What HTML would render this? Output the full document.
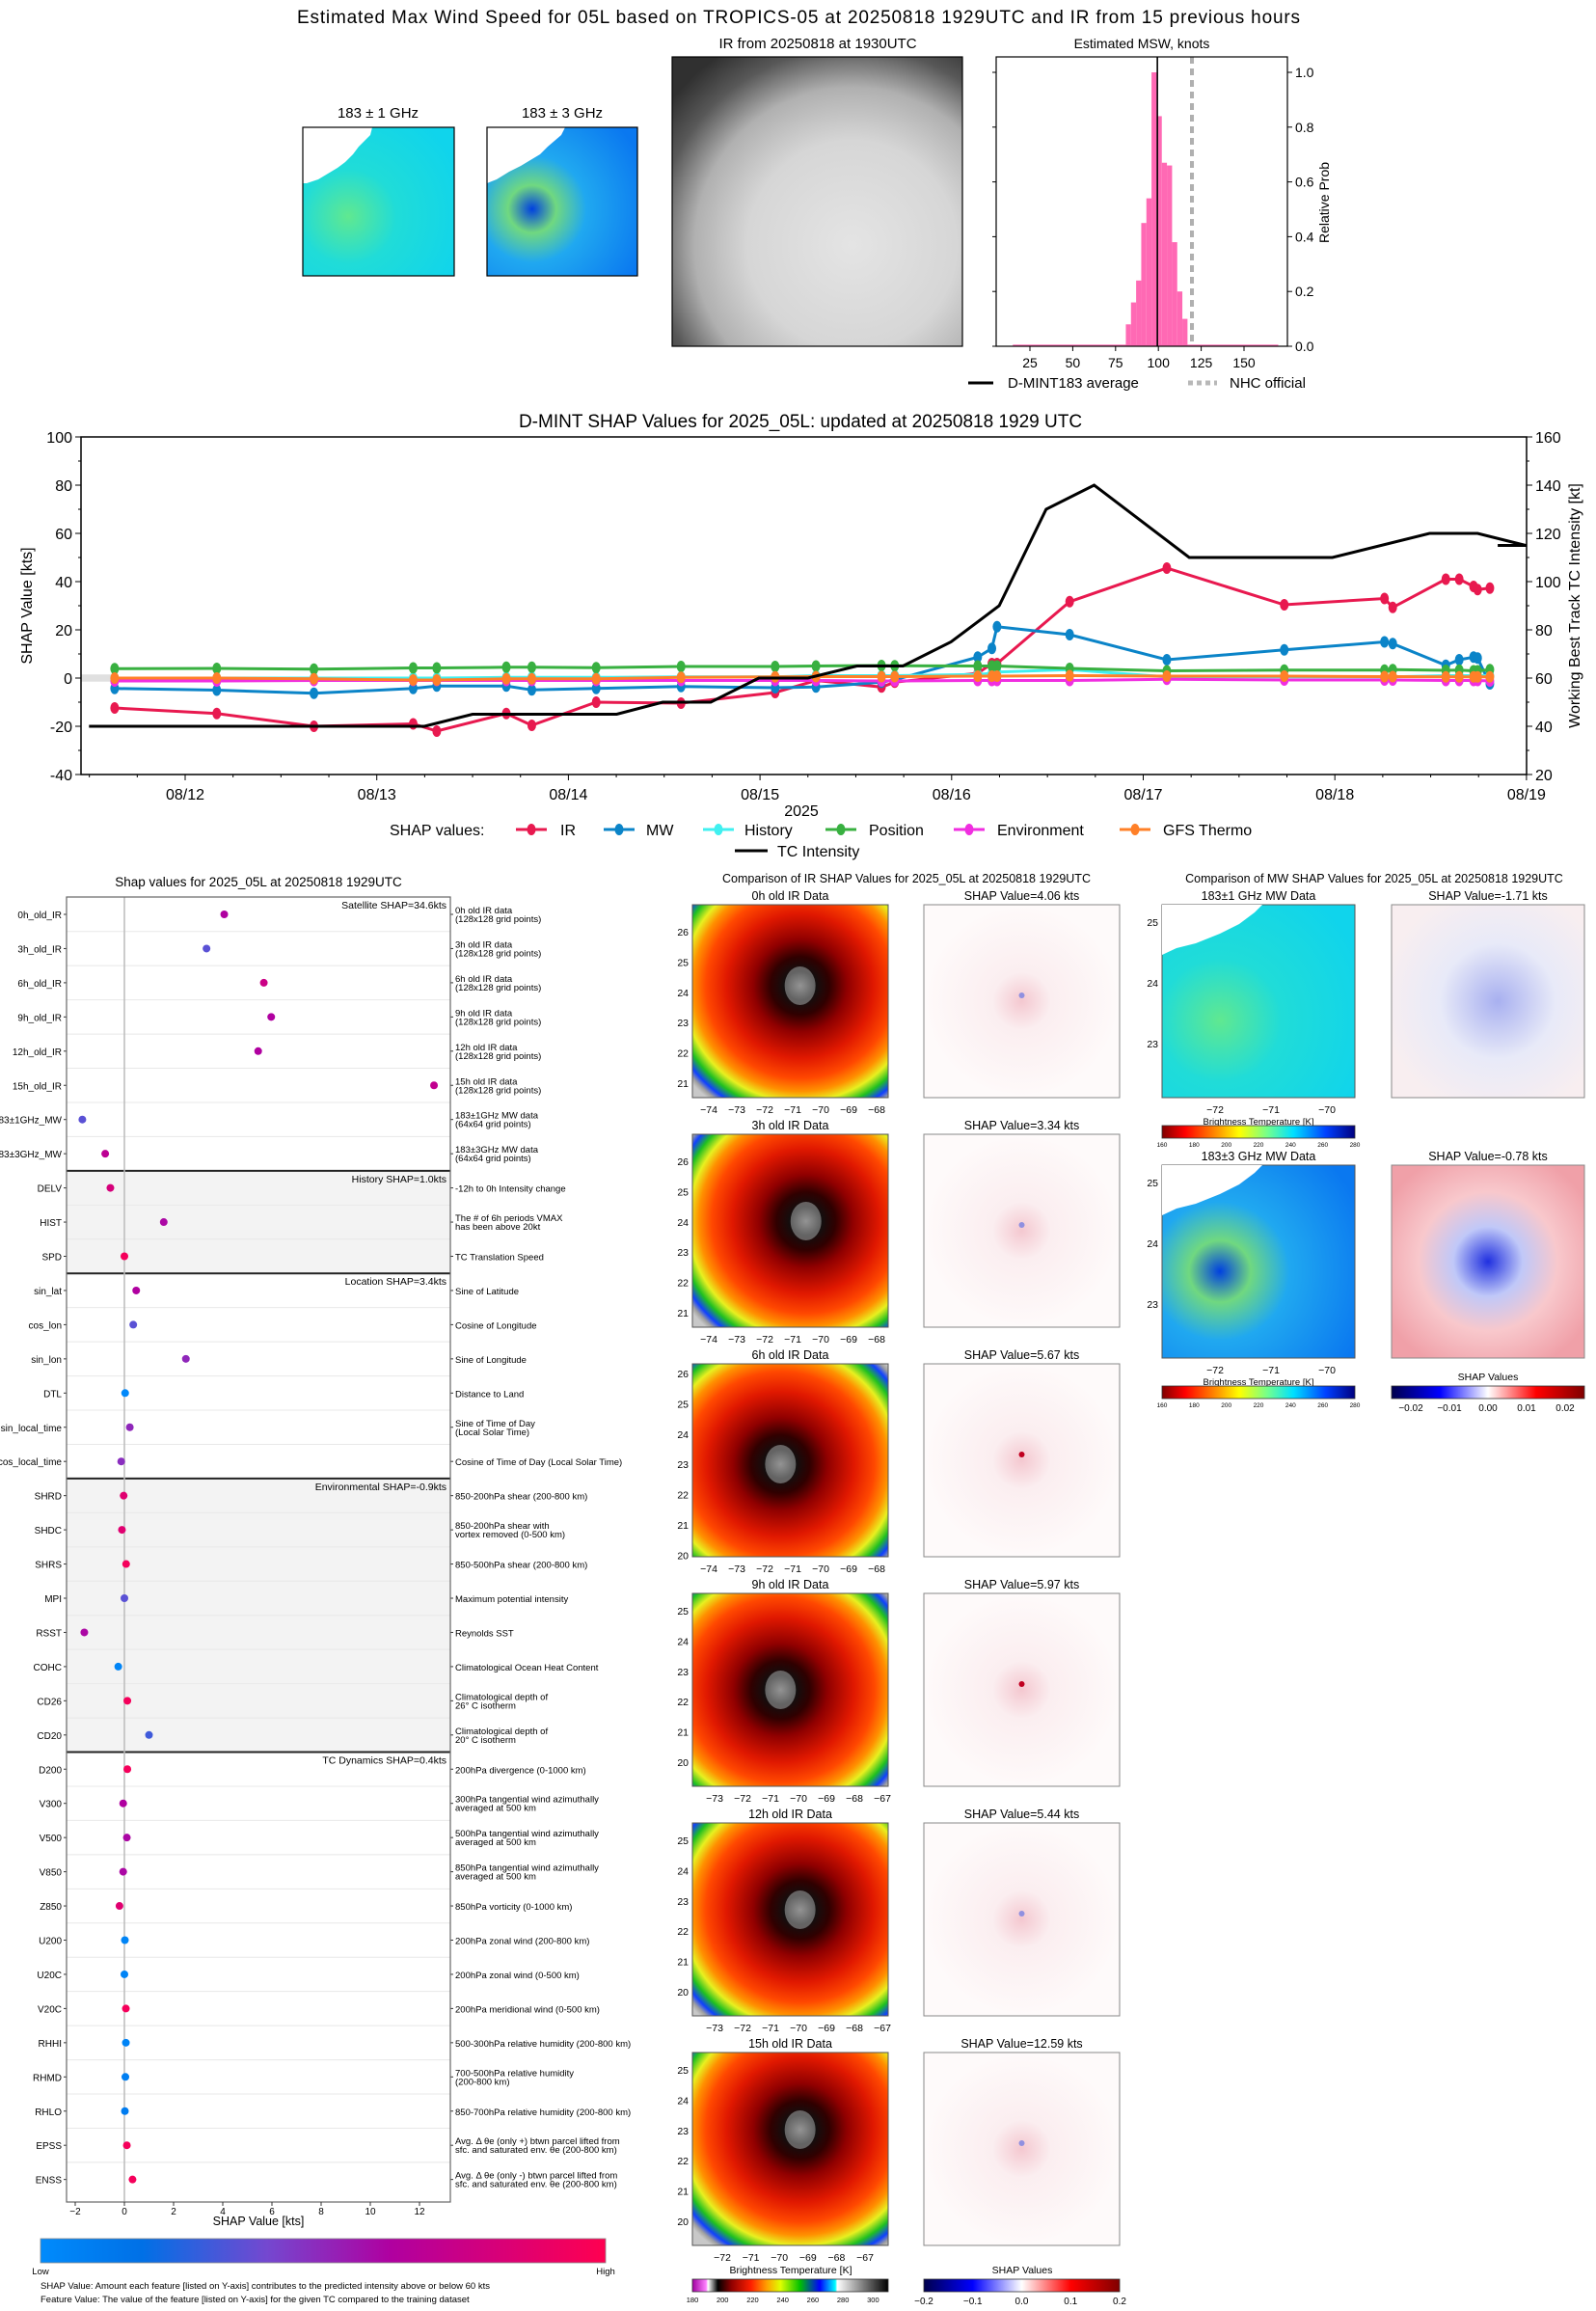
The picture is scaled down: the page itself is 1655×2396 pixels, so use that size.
<!DOCTYPE html>
<html><head><meta charset="utf-8"><title>D-MINT TROPICS-05 05L</title>
<style>
html,body{margin:0;padding:0;background:#fff;}
svg{display:block;font-family:"Liberation Sans",sans-serif;}
</style></head>
<body>
<svg id="fig" xmlns="http://www.w3.org/2000/svg" width="1655" height="2396" viewBox="0 0 1655 2396">
<defs>
 <linearGradient id="jetR" x1="0" x2="1" y1="0" y2="0">
  <stop offset="0" stop-color="#800000"/><stop offset="0.12" stop-color="#ff0000"/><stop offset="0.3" stop-color="#ffa000"/><stop offset="0.4" stop-color="#ffff00"/><stop offset="0.55" stop-color="#70ff90"/><stop offset="0.68" stop-color="#00e0ff"/><stop offset="0.85" stop-color="#0040ff"/><stop offset="1" stop-color="#000080"/>
 </linearGradient>
 <linearGradient id="seis" x1="0" x2="1" y1="0" y2="0">
  <stop offset="0" stop-color="#00004c"/><stop offset="0.25" stop-color="#0000ff"/><stop offset="0.5" stop-color="#ffffff"/><stop offset="0.75" stop-color="#ff0000"/><stop offset="1" stop-color="#800000"/>
 </linearGradient>
 <linearGradient id="irc" x1="0" x2="1" y1="0" y2="0">
  <stop offset="0" stop-color="#a000a0"/><stop offset="0.07" stop-color="#ff80ff"/><stop offset="0.08" stop-color="#ffffff"/><stop offset="0.13" stop-color="#000000"/><stop offset="0.2" stop-color="#900000"/><stop offset="0.3" stop-color="#ff2000"/><stop offset="0.38" stop-color="#ffa000"/><stop offset="0.45" stop-color="#e0ff00"/><stop offset="0.55" stop-color="#00c000"/><stop offset="0.65" stop-color="#0000ff"/><stop offset="0.73" stop-color="#00ffff"/><stop offset="0.74" stop-color="#ffffff"/><stop offset="1" stop-color="#000000"/>
 </linearGradient>
 <linearGradient id="lowhigh" x1="0" x2="1" y1="0" y2="0">
  <stop offset="0" stop-color="#008bfc"/><stop offset="0.18" stop-color="#0070e6"/><stop offset="0.4" stop-color="#7448d0"/><stop offset="0.62" stop-color="#b000a0"/><stop offset="1" stop-color="#ff0050"/>
 </linearGradient>
 <radialGradient id="irgray" cx="0.62" cy="0.65" r="0.8">
  <stop offset="0" stop-color="#e4e4e4"/><stop offset="0.45" stop-color="#d6d6d6"/><stop offset="0.68" stop-color="#b0b0b0"/><stop offset="0.85" stop-color="#585858"/><stop offset="1" stop-color="#303030"/>
 </radialGradient>
 <radialGradient id="mw1top" cx="0.3" cy="0.6" r="0.8">
  <stop offset="0" stop-color="#60e890"/><stop offset="0.4" stop-color="#20dcd8"/><stop offset="1" stop-color="#10d4ec"/>
 </radialGradient>
 <radialGradient id="mw3top" cx="0.3" cy="0.55" r="0.8">
  <stop offset="0" stop-color="#0040e0"/><stop offset="0.2" stop-color="#70d880"/><stop offset="0.45" stop-color="#20a8f0"/><stop offset="1" stop-color="#0a78f0"/>
 </radialGradient>
 <radialGradient id="mwsh3" cx="0.5" cy="0.5" r="0.6">
  <stop offset="0" stop-color="#2030e0"/><stop offset="0.3" stop-color="#c0c8f8"/><stop offset="0.6" stop-color="#f8c8cc"/><stop offset="1" stop-color="#f0a0a8"/>
 </radialGradient>
 <radialGradient id="mwsh1" cx="0.55" cy="0.5" r="0.6">
  <stop offset="0" stop-color="#a8b0f0"/><stop offset="0.5" stop-color="#e8eaf8"/><stop offset="1" stop-color="#f8eef0"/>
 </radialGradient>
 <radialGradient id="irshap" cx="0.5" cy="0.5" r="0.5">
  <stop offset="0" stop-color="#f4c8d0"/><stop offset="0.3" stop-color="#fbeef0"/><stop offset="1" stop-color="#fefafa"/>
 </radialGradient>
</defs>

<text x="828" y="24" font-size="19" text-anchor="middle" textLength="1040">Estimated Max Wind Speed for 05L based on TROPICS-05 at 20250818 1929UTC and IR from 15 previous hours</text>

<text x="392" y="122" font-size="15" text-anchor="middle">183 ± 1 GHz</text>
<g>
 <rect x="314" y="132" width="157" height="154" fill="url(#mw1top)"/>
 <polygon points="314,132 386,132 384,140 378,146 372,152 366,160 358,168 350,174 340,180 330,186 318,190 314,190" fill="#fff"/>
 <rect x="314" y="132" width="157" height="154" fill="none" stroke="#000" stroke-width="1.2"/>
</g>
<text x="583" y="122" font-size="15" text-anchor="middle">183 ± 3 GHz</text>
<g>
 <rect x="505" y="132" width="156" height="154" fill="url(#mw3top)"/>
 <polygon points="505,132 586,132 582,140 575,146 568,152 560,160 550,166 540,172 528,178 515,186 505,190" fill="#fff"/>
 <rect x="505" y="132" width="156" height="154" fill="none" stroke="#000" stroke-width="1.2"/>
</g>
<text x="848" y="50" font-size="15" text-anchor="middle">IR from 20250818 at 1930UTC</text>
<g>
 <rect x="697" y="59" width="301" height="300" fill="url(#irgray)"/>
 <rect x="697" y="59" width="301" height="300" fill="none" stroke="#000" stroke-width="1.2"/>
</g>
<text x="1184" y="50" font-size="14" text-anchor="middle">Estimated MSW, knots</text>
<g id="hist"></g>

<text x="830" y="443" font-size="19" text-anchor="middle">D-MINT SHAP Values for 2025_05L: updated at 20250818 1929 UTC</text>
<g id="ts"></g>

<text x="268" y="919" font-size="13.5" text-anchor="middle">Shap values for 2025_05L at 20250818 1929UTC</text>
<g id="feat"></g>

<text x="940" y="915" font-size="12.5" text-anchor="middle">Comparison of IR SHAP Values for 2025_05L at 20250818 1929UTC</text>
<g id="irpanels"></g>

<text x="1425" y="915" font-size="12.5" text-anchor="middle">Comparison of MW SHAP Values for 2025_05L at 20250818 1929UTC</text>
<g id="mwpanels"></g>
</svg>

<script>
const NS = "http://www.w3.org/2000/svg";
const histBinStart = [81,84,87,90,93,96,99,102,105,108,111,114];
const histProb = [0.08,0.16,0.24,0.45,0.54,1.0,0.84,0.67,0.66,0.38,0.2,0.1];
const histTailLo = 15, histTailHi = 170;
const mintAverage = 99.4;
const nhcOfficial = 119.6;
const histXTicks = [25,50,75,100,125,150];
const histYTicks = [0.0,0.2,0.4,0.6,0.8,1.0];

const tsDays = [0.632,1.165,1.672,2.19,2.313,2.676,2.809,3.145,3.588,4.079,4.292,4.634,4.703,5.136,5.21,5.237,5.616,6.123,6.736,7.259,7.302,7.579,7.649,7.724,7.745,7.809];
const irShap = [-12.4,-14.7,-20,-19,-22,-14.7,-19.6,-10,-10.4,-6,-1,-3.7,-1.7,2,6,6,31.7,45.6,30.4,33,29.3,41,41,38,36.7,37.3];
const mwShap = [-4.3,-5,-6.3,-4.3,-3.3,-3.3,-4.9,-4.3,-3.5,-4,-3.7,-1.7,-0.7,8.7,12.3,21.3,18,7.6,11.7,15,14.3,5.3,7.6,8.7,8.3,-2.4];
const historyShap = [0,0,0,0,0,0.3,0.3,0.3,0.5,0.5,1,1,1,1.5,2,2.5,3.5,0.5,0.5,0.5,0.5,1,1,1,1,1];
const positionShap = [3.9,4,3.7,4.2,4.2,4.5,4.5,4.3,4.8,4.8,5,5.2,5.1,5,5,5,4,3,3.3,3.3,3.5,3.2,3.3,3,3,3.5];
const envShap = [-1.2,-1.2,-1,-1,-1,-1,-1,-1,-1,-1,-1,-1.2,-1.2,-1,-1,-1,-1,-0.5,-0.8,-0.8,-0.8,-1,-1,-1,-1,-1.2];
const gfsShap = [0,0,-0.3,-0.8,-0.8,-0.3,-0.3,-0.3,0.3,0.5,0.6,0.6,0.6,0.8,0.8,0.8,1,0.8,0.8,0.6,0.6,0.5,0.5,0.5,0.5,0.5];
const intDays = [0.498,2.249,2.5,3.252,3.492,3.743,3.994,4.25,4.506,4.746,4.997,5.248,5.493,5.744,6.24,6.987,7.494,7.745,7.996];
const intKts = [40,40,45,45,50,50,60,60,65,65,75,90,130,140,110,110,120,120,115];
const tsDateLabels = ["08/12","08/13","08/14","08/15","08/16","08/17","08/18","08/19"];
const tsLeftTicks = [-40,-20,0,20,40,60,80,100];
const tsRightTicks = [20,40,60,80,100,120,140,160];

const featNames = ["0h_old_IR","3h_old_IR","6h_old_IR","9h_old_IR","12h_old_IR","15h_old_IR","183±1GHz_MW","183±3GHz_MW","DELV","HIST","SPD","sin_lat","cos_lon","sin_lon","DTL","sin_local_time","cos_local_time","SHRD","SHDC","SHRS","MPI","RSST","COHC","CD26","CD20","D200","V300","V500","V850","Z850","U200","U20C","V20C","RHHI","RHMD","RHLO","EPSS","ENSS"];
const featShap = [4.06,3.34,5.67,5.97,5.44,12.59,-1.71,-0.78,-0.57,1.6,0,0.48,0.36,2.5,0.03,0.22,-0.13,-0.03,-0.1,0.07,0.0,-1.63,-0.25,0.12,1.0,0.12,-0.05,0.1,-0.05,-0.2,0.02,0,0.06,0.06,0.04,0.02,0.1,0.33];
const featLevel = [0.62,0.35,0.75,0.62,0.62,0.7,0.35,0.68,0.8,0.6,0.95,0.62,0.35,0.5,0.02,0.5,0.48,0.85,0.85,0.95,0.35,0.6,0.05,0.95,0.3,0.95,0.62,0.6,0.6,0.85,0.05,0.05,0.95,0.05,0.08,0.1,0.95,0.95];
const featDesc = [["0h old IR data","(128x128 grid points)"],["3h old IR data","(128x128 grid points)"],["6h old IR data","(128x128 grid points)"],["9h old IR data","(128x128 grid points)"],["12h old IR data","(128x128 grid points)"],["15h old IR data","(128x128 grid points)"],["183±1GHz MW data","(64x64 grid points)"],["183±3GHz MW data","(64x64 grid points)"],["-12h to 0h Intensity change"],["The # of 6h periods VMAX","has been above 20kt"],["TC Translation Speed"],["Sine of Latitude"],["Cosine of Longitude"],["Sine of Longitude"],["Distance to Land"],["Sine of Time of Day","(Local Solar Time)"],["Cosine of Time of Day (Local Solar Time)"],["850-200hPa shear (200-800 km)"],["850-200hPa shear with","vortex removed (0-500 km)"],["850-500hPa shear (200-800 km)"],["Maximum potential intensity"],["Reynolds SST"],["Climatological Ocean Heat Content"],["Climatological depth of","26° C isotherm"],["Climatological depth of","20° C isotherm"],["200hPa divergence (0-1000 km)"],["300hPa tangential wind azimuthally","averaged at 500 km"],["500hPa tangential wind azimuthally","averaged at 500 km"],["850hPa tangential wind azimuthally","averaged at 500 km"],["850hPa vorticity (0-1000 km)"],["200hPa zonal wind (200-800 km)"],["200hPa zonal wind (0-500 km)"],["200hPa meridional wind (0-500 km)"],["500-300hPa relative humidity (200-800 km)"],["700-500hPa relative humidity","(200-800 km)"],["850-700hPa relative humidity (200-800 km)"],["Avg. Δ θe (only +) btwn parcel lifted from","sfc. and saturated env. θe (200-800 km)"],["Avg. Δ θe (only -) btwn parcel lifted from","sfc. and saturated env. θe (200-800 km)"]];
const groupNames = ["Satellite SHAP=34.6kts","History SHAP=1.0kts","Location SHAP=3.4kts","Environmental SHAP=-0.9kts","TC Dynamics SHAP=0.4kts"];
const groupStart = [0,8,11,17,25];
const groupEnd = [8,11,17,25,38];
const featXTicks = [-2,0,2,4,6,8,10,12];

const irHours = ["0h","3h","6h","9h","12h","15h"];
const irShapVals = ["4.06","3.34","5.67","5.97","5.44","12.59"];
const irLatTicks = [[26,25,24,23,22,21],[26,25,24,23,22,21],[26,25,24,23,22,21,20],[25,24,23,22,21,20],[25,24,23,22,21,20],[25,24,23,22,21,20]];
const irLonTicks = [[-74,-73,-72,-71,-70,-69,-68],[-74,-73,-72,-71,-70,-69,-68],[-74,-73,-72,-71,-70,-69,-68],[-73,-72,-71,-70,-69,-68,-67],[-73,-72,-71,-70,-69,-68,-67],[-72,-71,-70,-69,-68,-67]];
const mwNames = ["183±1 GHz MW Data","183±3 GHz MW Data"];
const mwShapVals = ["-1.71","-0.78"];
const mwLatTicks = [25,24,23];
const mwLonTicks = [-72,-71,-70];
const mwCbarTicks = [160,180,200,220,240,260,280];
const irCbarTicks = [180,200,220,240,260,280,300];
const shapCbarTicks = ["−0.2","−0.1","0.0","0.1","0.2"];
const mwShapCbarTicks = ["−0.02","−0.01","0.00","0.01","0.02"];

function el(tag, parent){ const e=document.createElementNS(NS,tag); parent.appendChild(e); return e; }
function set(e,o){ for(const k in o) e.setAttribute(k,o[k]); return e; }
function txt(parent,x,y,s,size,anchor){ const t=el('text',parent); set(t,{x:x,y:y,'font-size':size,'text-anchor':anchor||'middle'}); t.textContent=s; return t; }

(function(){
 const g=document.getElementById('hist');
 const L=1033,R=1335,T=59,B=359;
 const hx=v=>1068+(v-25)*1.776, hy=p=>359-p*284;
 const tail=el('rect',g); set(tail,{x:hx(histTailLo),y:hy(0.006),width:hx(histTailHi)-hx(histTailLo),height:hy(0)-hy(0.006),fill:'#ff69b4'});
 
 
 histBinStart.forEach((b,i)=>{
  const r=el('rect',g); set(r,{x:hx(b),y:hy(histProb[i]),width:hx(b+3)-hx(b),height:hy(0)-hy(histProb[i]),fill:'#ff69b4'});
  
  
 });
 const m=el('line',g); set(m,{x1:hx(mintAverage),x2:hx(mintAverage),y1:T,y2:B,stroke:'#000','stroke-width':1.6});
 
 
 const n=el('line',g); set(n,{x1:hx(nhcOfficial),x2:hx(nhcOfficial),y1:T,y2:B,stroke:'#b0b0b0','stroke-width':4,'stroke-dasharray':'7,5'});
 
 
 const f=el('rect',g); set(f,{x:L,y:T,width:R-L,height:B-T,fill:'none',stroke:'#000','stroke-width':1.2});
 
 
 histXTicks.forEach(v=>{ const l=el('line',g); set(l,{x1:hx(v),x2:hx(v),y1:B,y2:B+5,stroke:'#000'});
  const t=txt(g,hx(v),B+22,String(v),14);
  
   });
 histYTicks.forEach(v=>{ const l=el('line',g); set(l,{x1:R,x2:R+5,y1:hy(v),y2:hy(v),stroke:'#000'});
  const l2=el('line',g); set(l2,{x1:L-4,x2:L,y1:hy(v),y2:hy(v),stroke:'#000'});
  const t=txt(g,R+8,hy(v)+5,v.toFixed(1),14,'start');
  
   });
 const yl=txt(g,0,0,'Relative Prob',14); set(yl,{transform:'translate(1378,210) rotate(-90)'});
 
 
 const l1=el('line',g); set(l1,{x1:1004,x2:1030,y1:397,y2:397,stroke:'#000','stroke-width':3});
 
 
 const t1=txt(g,1045,402,'D-MINT183 average',15,'start');
 
 
 const l2=el('line',g); set(l2,{x1:1232,x2:1262,y1:397,y2:397,stroke:'#b8b8b8','stroke-width':5,'stroke-dasharray':'5,4'});
 
 
 const t2=txt(g,1275,402,'NHC official',15,'start');
 
 
})();

(function(){
 const g=document.getElementById('ts');
 const L=84,R=1583,T=453,B=803;
 const x=d=>192+(d-1)*198.7, yL=v=>B-(v+40)*2.5, yR=k=>B-(k-20)*2.5;
 const band=el('rect',g); set(band,{x:L,y:yL(1.5),width:35,height:yL(-1.5)-yL(1.5),fill:'#e0e0e0'});
 
 
 const series=[['IR',irShap,'#e8194f'],['MW',mwShap,'#0b84c8'],['History',historyShap,'#40f0f0'],['Position',positionShap,'#38b040'],['Environment',envShap,'#f02ee0'],['GFS Thermo',gfsShap,'#ff8028']];
 series.forEach(s=>{
  const pts=tsDays.map((d,i)=>x(d).toFixed(1)+','+yL(s[1][i]).toFixed(1)).join(' ');
  const p=el('polyline',g); set(p,{points:pts,fill:'none',stroke:s[2],'stroke-width':3});
  
  
  tsDays.forEach((d,i)=>{ const c=el('ellipse',g); set(c,{cx:x(d),cy:yL(s[1][i]),rx:4.5,ry:6,fill:s[2]});
   
    });
 });
 const ip=el('polyline',g); set(ip,{points:intDays.map((d,i)=>x(d).toFixed(1)+','+yR(intKts[i]).toFixed(1)).join(' '),fill:'none',stroke:'#000','stroke-width':3});
 
 
 const last=el('line',g); set(last,{x1:x(7.85),x2:R,y1:yR(115),y2:yR(115),stroke:'#000','stroke-width':3});
 
 
 const f=el('rect',g); set(f,{x:L,y:T,width:R-L,height:B-T,fill:'none',stroke:'#000','stroke-width':1.5});
 
 
 tsLeftTicks.forEach(v=>{ const l=el('line',g); set(l,{x1:L-6,x2:L,y1:yL(v),y2:yL(v),stroke:'#000'});
  const t=txt(g,L-9,yL(v)+6,String(v),16,'end');
  
   });
 for(let v=-30;v<100;v+=20){ const l=el('line',g); set(l,{x1:L-3,x2:L,y1:yL(v),y2:yL(v),stroke:'#000'}); }
 tsRightTicks.forEach(v=>{ const l=el('line',g); set(l,{x1:R,x2:R+6,y1:yR(v),y2:yR(v),stroke:'#000'});
  const t=txt(g,R+9,yR(v)+6,String(v),16,'start');
  
   });
 for(let v=30;v<160;v+=20){ const l=el('line',g); set(l,{x1:R,x2:R+3,y1:yR(v),y2:yR(v),stroke:'#000'}); }
 tsDateLabels.forEach((s,i)=>{ const d=i+1; const l=el('line',g); set(l,{x1:x(d),x2:x(d),y1:B,y2:B+6,stroke:'#000'});
  const t=txt(g,x(d),B+26,s,16);
  
   });
 for(let d=0.5;d<8;d+=0.25){ if(d%1!==0){ const l=el('line',g); set(l,{x1:x(d),x2:x(d),y1:B,y2:B+3,stroke:'#000'}); } }
 const yr=txt(g,831,846,'2025',16); 
 
 const yl=txt(g,0,0,'SHAP Value [kts]',16); set(yl,{transform:'translate(33,628) rotate(-90)'});
 
 
 const yr2=txt(g,0,0,'Working Best Track TC Intensity [kt]',16); set(yr2,{transform:'translate(1638,628) rotate(-90)'});
 
 
 const lh=txt(g,404,866,'SHAP values:',16,'start'); 
 
 const lx=[551,642,745,872,1005,1177], tx=[581,670,772,901,1034,1206];
 series.forEach((s,i)=>{
  const l=el('line',g); set(l,{x1:lx[i]-16,x2:lx[i]+16,y1:860,y2:860,stroke:s[2],'stroke-width':3});
  const c=el('ellipse',g); set(c,{cx:lx[i],cy:860,rx:4.5,ry:6,fill:s[2]});
  
  
  const t=txt(g,tx[i],866,s[0],16,'start');
  
  
 });
 const il=el('line',g); set(il,{x1:762,x2:796,y1:882,y2:882,stroke:'#000','stroke-width':3});
 
 
 const it=txt(g,806,888,'TC Intensity',16,'start'); 
 
})();

(function(){
 const g=document.getElementById('feat');
 const L=69,R=467,T=930,B=2283, rowH=35.45, y0=948;
 const xs=v=>129+v*25.5, ry=i=>y0+i*rowH;
 const gray=[false,true,false,true,false];
 groupStart.forEach((s,k)=>{
  const top=k===0?T:ry(s-0.5), bot=k===4?B:ry(groupEnd[k]-0.5);
  const r=el('rect',g); set(r,{x:L,y:top,width:R-L,height:bot-top,fill:gray[k]?'#f3f3f3':'#fff'});
  
  
  const t=txt(g,R-4,top+12,groupNames[k],10.5,'end');
  
  
 });
 for(let i=0;i<featNames.length-1;i++){ const l=el('line',g); set(l,{x1:L,x2:R,y1:ry(i+0.5),y2:ry(i+0.5),stroke:'#e8e8e8','stroke-width':1}); }
 groupStart.slice(1).forEach(s=>{ const l=el('line',g); set(l,{x1:L,x2:R,y1:ry(s-0.5),y2:ry(s-0.5),stroke:'#222','stroke-width':2}); });
 const z=el('line',g); set(z,{x1:xs(0),x2:xs(0),y1:T,y2:B,stroke:'#bbb','stroke-width':1.5});
 
 
 const lerp=(a,b,t)=>Math.round(a+(b-a)*t);
 const stops=[[0,[0,139,252]],[0.18,[0,112,230]],[0.4,[116,72,208]],[0.62,[176,0,160]],[1,[255,0,80]]];
 function col(t){ for(let i=1;i<stops.length;i++){ if(t<=stops[i][0]){ const a=stops[i-1],b=stops[i],u=(t-a[0])/(b[0]-a[0]); return 'rgb('+lerp(a[1][0],b[1][0],u)+','+lerp(a[1][1],b[1][1],u)+','+lerp(a[1][2],b[1][2],u)+')'; } } return 'rgb(255,0,80)'; }
 featNames.forEach((n,i)=>{
  const t=txt(g,L-5,ry(i)+4,n,10,'end'); 
  
  const tk=el('line',g); set(tk,{x1:L-3,x2:L,y1:ry(i),y2:ry(i),stroke:'#333'});
  const tk2=el('line',g); set(tk2,{x1:R,x2:R+3,y1:ry(i),y2:ry(i),stroke:'#333'});
  const d=featDesc[i];
  d.forEach((s,j)=>{ const dt=txt(g,472,ry(i)+(d.length===1?4:-1+j*9),s,9.5,'start');
   
    });
  const c=el('circle',g); set(c,{cx:xs(featShap[i]),cy:ry(i),r:4,fill:col(featLevel[i])});
  
  
 });
 const f=el('rect',g); set(f,{x:L,y:T,width:R-L,height:B-T,fill:'none',stroke:'#666','stroke-width':1.2});
 
 
 featXTicks.forEach(v=>{ const l=el('line',g); set(l,{x1:xs(v),x2:xs(v),y1:B,y2:B+4,stroke:'#333'});
  const t=txt(g,xs(v),B+13,v<0?'−'+(-v):String(v),10);
  
   });
 const xt=txt(g,268,2307,'SHAP Value [kts]',12.5); 
 
 const cb=el('rect',g); set(cb,{x:42,y:2321,width:586,height:25,fill:'url(#lowhigh)',stroke:'#888','stroke-width':0.8});
 
 
 const lo=txt(g,42,2358,'Low',9.5); 
 
 const hi=txt(g,628,2358,'High',9.5); 
 
 const n1=txt(g,42,2373,'SHAP Value: Amount each feature [listed on Y-axis] contributes to the predicted intensity above or below 60 kts',9.5,'start');
 
 
 const n2=txt(g,42,2387,'Feature Value: The value of the feature [listed on Y-axis] for the given TC compared to the training dataset',9.5,'start');
 
 
})();

(function(){
 const g=document.getElementById('irpanels');
 const defs=document.querySelector('defs');
 const IX=718, IW=203, SX=958, SW=203, H=200;
 irHours.forEach((h,k)=>{
  const top=938+k*238;
  const cy=[0.42,0.45,0.52,0.5,0.45,0.4][k], cx=[0.55,0.58,0.45,0.45,0.55,0.55][k];
  const gr=el('radialGradient',defs); set(gr,{id:'irg'+k,cx:cx,cy:cy,r:0.75});
  [[0,'#b0b0b0'],[0.06,'#505050'],[0.1,'#101010'],[0.2,'#300000'],[0.32,'#900000'],[0.5,'#e01800'],[0.64,'#ff4800'],[0.73,'#ff9000'],[0.8,'#e8f020'],[0.87,'#20c020'],[0.93,'#1040ff'],[0.97,'#a0a0a0'],[1,'#c8c8c8']].forEach(s=>{ const st=el('stop',gr); set(st,{offset:s[0],'stop-color':s[1]}); });
  const t=txt(g,IX+IW/2,top-5,h+' old IR Data',12.5); 
  
  const r=el('rect',g); set(r,{x:IX,y:top,width:IW,height:H,fill:'url(#irg'+k+')',stroke:'#555','stroke-width':1});
  
  
  const ey=el('ellipse',g); set(ey,{cx:IX+IW*cx,cy:top+H*cy,rx:16,ry:20,fill:'#888',opacity:0.7});
  const lat=irLatTicks[k], off=k<2?28:(k===2?10:18);
  lat.forEach((v,i)=>{ const yy=top+off+i*31.4; const lt=txt(g,IX-4,yy+4,String(v),10.5,'end');
   
    });
  const lon=irLonTicks[k], xo=k<3?17:(k<5?23:31), sp=k===5?29.6:29;
  lon.forEach((v,i)=>{ const lt=txt(g,IX+xo+i*sp,top+H+16,'−'+(-v),10.5);
   
    });
  const st=txt(g,SX+SW/2,top-5,'SHAP Value='+irShapVals[k]+' kts',12.5); 
  
  const sr=el('rect',g); set(sr,{x:SX,y:top,width:SW,height:H,fill:'url(#irshap)',stroke:'#888','stroke-width':1});
  
  
  const dot=el('circle',g); set(dot,{cx:SX+SW*0.5,cy:top+H*0.47,r:3,fill:k===2||k===3?'#c00020':'#9090e0'});
 });
 const cb1=el('rect',g); set(cb1,{x:718,y:2363,width:203,height:13,fill:'url(#irc)',stroke:'#333','stroke-width':0.8});
 
 
 const c1t=txt(g,820,2357,'Brightness Temperature [K]',10.5); 
 
 irCbarTicks.forEach((v,i)=>{ const t=txt(g,718+(v-180)*203/130,2387,String(v),7.5);
  
   });
 const cb2=el('rect',g); set(cb2,{x:958,y:2363,width:203,height:13,fill:'url(#seis)',stroke:'#333','stroke-width':0.8});
 
 
 const c2t=txt(g,1060,2357,'SHAP Values',10.5); 
 
 shapCbarTicks.forEach((s,i)=>{ const t=txt(g,958+i*203/4,2389,s,10);
  
   });
})();

(function(){
 const g=document.getElementById('mwpanels');
 const MX=1205, MW=200, SX=1443, SW=200, H=200;
 const tops=[938,1208];
 const fills=['url(#mw1top)','url(#mw3top)'], sfills=['url(#mwsh1)','url(#mwsh3)'];
 tops.forEach((top,k)=>{
  const t=txt(g,MX+MW/2,top-5,mwNames[k],12.5); 
  
  const r=el('rect',g); set(r,{x:MX,y:top,width:MW,height:H,fill:fills[k],stroke:'#555','stroke-width':1});
  
  
  const cut=el('polygon',g); set(cut,{points:`${MX},${top} ${MX+104},${top} ${MX+96},${top+8} ${MX+80},${top+20} ${MX+60},${top+30} ${MX+35},${top+40} ${MX+15},${top+45} ${MX},${top+52}`,fill:'#fff'});
  mwLatTicks.forEach((v,i)=>{ const lt=txt(g,MX-4,top+18+i*63+4,String(v),10.5,'end');
   
    });
  mwLonTicks.forEach((v,i)=>{ const lt=txt(g,1260+i*58,top+H+16,'−'+(-v),10.5);
   
    });
  const bt=txt(g,MX+MW/2,top+H+28,'Brightness Temperature [K]',9.5); 
  
  const cb=el('rect',g); set(cb,{x:MX,y:top+H+29,width:MW,height:13,fill:'url(#jetR)',stroke:'#333','stroke-width':0.8});
  
  
  mwCbarTicks.forEach((v,i)=>{ const tt=txt(g,MX+i*MW/6,top+H+51,String(v),6.5);
   
    });
  const st=txt(g,SX+SW/2,top-5,'SHAP Value='+mwShapVals[k]+' kts',12.5); 
  
  const sr=el('rect',g); set(sr,{x:SX,y:top,width:SW,height:H,fill:sfills[k],stroke:'#888','stroke-width':1});
  
  
 });
 const st=txt(g,SX+SW/2,1431,'SHAP Values',10.5); 
 
 const cb=el('rect',g); set(cb,{x:SX,y:1437,width:SW,height:13,fill:'url(#seis)',stroke:'#333','stroke-width':0.8});
 
 
 mwShapCbarTicks.forEach((s,i)=>{ const t=txt(g,SX+20+i*40,1463,s,10);
  
   });
})();
</script>
</body></html>
